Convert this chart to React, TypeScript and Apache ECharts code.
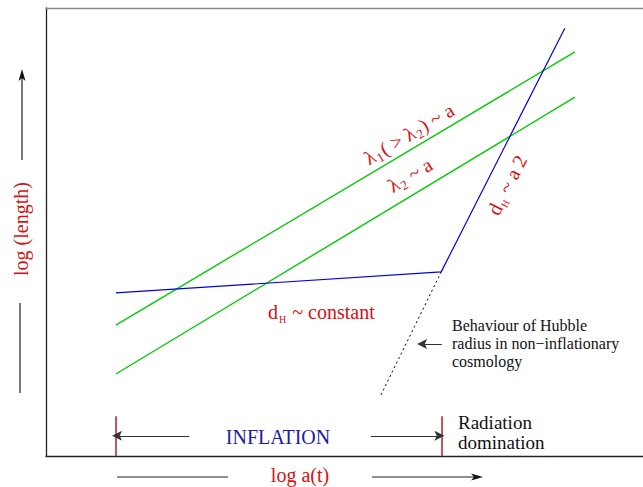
import React, { useEffect, useRef } from "react";
import * as echarts from "echarts";

// Data (log a on x, log length on y, arbitrary units)
const lambda1X = [1.17, 8.86];
const lambda1Y = [2.92, 9.02];
const lambda2X = [1.17, 8.86];
const lambda2Y = [1.83, 8.01];
const hubbleX = [1.17, 6.62, 8.69];
const hubbleY = [3.64, 4.11, 9.55];
const nonInflX = [6.62, 5.61];
const nonInflY = [4.11, 1.36];
const epochBoundaries = [1.17, 6.63];
const markerTop = 0.89;
const inflationArrowY = 0.45;
const inflationArrowLeft = [2.4, 1.19];
const inflationArrowRight = [5.44, 6.59];
const hubbleNoteArrowX = [6.63, 6.3];
const hubbleNoteArrowY = 2.5;

const SERIF = "'Liberation Serif', 'DejaVu Serif', serif";
const RED = "#d81010";
const ARROW = "path://M5 0 L10 13 L5 10 L0 13 Z";

const pairs = (xs: number[], ys: number[]) => xs.map((x, i) => [x, ys[i]]);

export default function App() {
  const ref = useRef<HTMLDivElement>(null);
  useEffect(() => {
    const chart = echarts.init(ref.current!, null, { renderer: "svg" });
    const main = { fontSize: 20, fontFamily: SERIF, fill: RED, lineHeight: 24 };
    const sub = { fontSize: 13, fontFamily: SERIF, fill: RED, verticalAlign: "bottom", lineHeight: 24, padding: [0, 1, 0, 1] };
    const smallSub = { ...sub, fontSize: 10 };
    const richStyle = (text: string, s: any, align = "center") => ({
      text, rich: { m: main, s }, fill: RED, fontFamily: SERIF, fontSize: 20, align, verticalAlign: "middle",
    });
    const option: any = {
      animation: false,
      grid: { left: 46, top: 8, right: 0, bottom: 31 },
      xAxis: [
        {
          type: "value", min: 0, max: 10,
          axisLine: { show: true, lineStyle: { color: "#222", width: 1.3 } },
          axisTick: { show: false }, axisLabel: { show: false }, splitLine: { show: false },
        },
        {
          type: "value", min: 0, max: 10, position: "top",
          axisLine: { show: true, lineStyle: { color: "#888", width: 1.3 } },
          axisTick: { show: false }, axisLabel: { show: false }, splitLine: { show: false },
        },
      ],
      yAxis: {
        type: "value", min: 0, max: 10,
        axisLine: { show: true, lineStyle: { color: "#222", width: 1.3 } },
        axisTick: { show: false }, axisLabel: { show: false }, splitLine: { show: false },
      },
      series: [
        { type: "line", data: pairs(lambda1X, lambda1Y), symbol: "none", lineStyle: { color: "#00cc00", width: 1.4 } },
        { type: "line", data: pairs(lambda2X, lambda2Y), symbol: "none", lineStyle: { color: "#00cc00", width: 1.4 } },
        { type: "line", data: pairs(hubbleX, hubbleY), symbol: "none", lineStyle: { color: "#0000e6", width: 1.2 } },
        { type: "line", data: pairs(nonInflX, nonInflY), symbol: "none", lineStyle: { color: "#000", width: 1, type: [2, 3] } },
        {
          type: "lines", coordinateSystem: "cartesian2d", symbol: "none",
          lineStyle: { color: "#b03030", width: 1.6, opacity: 1 },
          data: epochBoundaries.map((x) => ({ coords: [[x, 0], [x, markerTop]] })),
        },
        {
          type: "lines", coordinateSystem: "cartesian2d", symbol: ["none", ARROW], symbolSize: [7, 10],
          lineStyle: { color: "#333", width: 1.2, opacity: 1 },
          itemStyle: { color: "#111" },
          data: [
            { coords: [[inflationArrowLeft[0], inflationArrowY], [inflationArrowLeft[1], inflationArrowY]] },
            { coords: [[inflationArrowRight[0], inflationArrowY], [inflationArrowRight[1], inflationArrowY]] },
            { coords: [[hubbleNoteArrowX[0], hubbleNoteArrowY], [hubbleNoteArrowX[1], hubbleNoteArrowY]] },
          ],
        },
      ],
      graphic: [
        // y-axis title and arrow
        { type: "line", shape: { x1: 22, y1: 160, x2: 22, y2: 76 }, style: { stroke: "#222", lineWidth: 1.2 } },
        { type: "polygon", shape: { points: [[22, 69], [18.5, 81], [22, 78], [25.5, 81]] }, style: { fill: "#111" } },
        { type: "line", shape: { x1: 20, y1: 303, x2: 20, y2: 393 }, style: { stroke: "#222", lineWidth: 1.2 } },
        {
          type: "text", x: 21, y: 229, rotation: Math.PI / 2,
          style: { text: "log (length)", fontSize: 20, fontFamily: SERIF, fill: RED, align: "center", verticalAlign: "middle" },
        },
        // x-axis title and arrow
        { type: "line", shape: { x1: 117, y1: 477, x2: 228, y2: 477 }, style: { stroke: "#222", lineWidth: 1.2 } },
        { type: "line", shape: { x1: 372, y1: 477, x2: 476, y2: 477 }, style: { stroke: "#222", lineWidth: 1.2 } },
        { type: "polygon", shape: { points: [[483, 477], [471, 473.5], [474, 477], [471, 480.5]] }, style: { fill: "#111" } },
        {
          type: "text", x: 300, y: 475,
          style: { text: "log a(t)", fontSize: 20, fontFamily: SERIF, fill: RED, align: "center", verticalAlign: "middle" },
        },
        {
          type: "text", x: 278, y: 437,
          style: { text: "INFLATION", fontSize: 20, fontFamily: SERIF, fill: "#1c1ca8", align: "center", verticalAlign: "middle" },
        },
        {
          type: "text", x: 458, y: 432,
          style: { text: "Radiation\ndomination", fontSize: 19, lineHeight: 20, fontFamily: SERIF, fill: "#111", align: "left", verticalAlign: "middle" },
        },
        {
          type: "text", x: 452, y: 343,
          style: {
            text: "Behaviour of Hubble\nradius in non\u2212inflationary\ncosmology",
            fontSize: 16, lineHeight: 18, fontFamily: SERIF, fill: "#111", align: "left", verticalAlign: "middle",
          },
        },
        {
          type: "text", x: 409, y: 134, rotation: 0.536,
          style: richStyle("{m|λ}{s|1}{m|( > λ}{s|2}{m|) ~ a}", sub),
        },
        {
          type: "text", x: 410, y: 175, rotation: 0.536,
          style: richStyle("{m|λ}{s|2}{m| ~ a}", sub),
        },
        {
          type: "text", x: 507, y: 185, rotation: 1.1,
          style: richStyle("{m|d}{s|H}{m| ~ a 2}", smallSub),
        },
        {
          type: "text", x: 268, y: 312,
          style: richStyle("{m|d}{s|H}{m| ~ constant}", smallSub, "left"),
        },
      ],
    };
    chart.setOption(option);
    return () => chart.dispose();
  }, []);
  return <div ref={ref} style={{ position: "absolute", left: 0, top: 0, width: 643, height: 487 }} />;
}
